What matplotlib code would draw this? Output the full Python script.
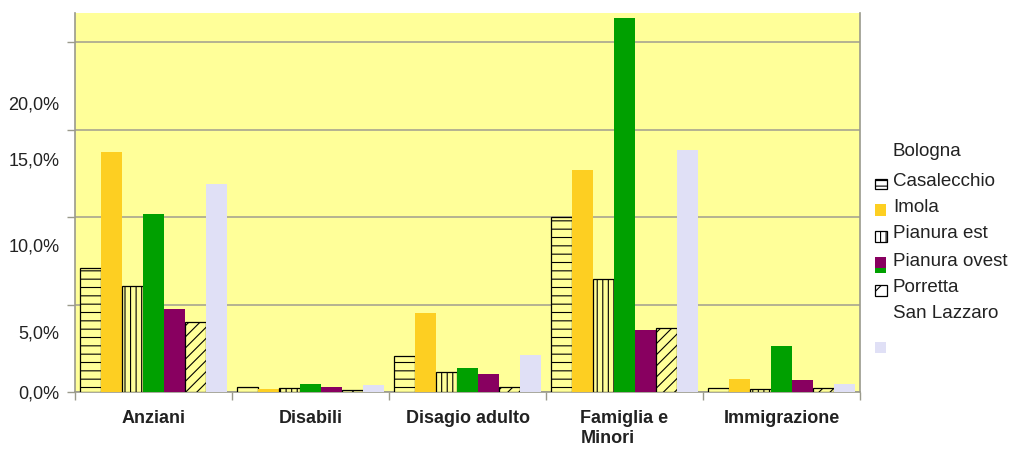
import numpy as np
import matplotlib.pyplot as plt
from matplotlib.patches import Rectangle

# data (percent)
categories = ["Anziani", "Disabili", "Disagio adulto", "Famiglia e\nMinori", "Immigrazione"]
series = ["Bologna", "Casalecchio", "Imola", "Pianura est", "Pianura ovest", "Porretta", "San Lazzaro"]

bologna = [7.10, 0.30, 2.06, 9.98, 0.21]
casalecchio = [13.73, 0.15, 4.53, 12.69, 0.74]
imola = [6.07, 0.25, 1.16, 6.44, 0.15]
pianura_est = [10.15, 0.46, 1.37, 21.39, 2.61]
pianura_ovest = [4.72, 0.27, 1.03, 3.54, 0.70]
porretta = [4.02, 0.11, 0.27, 3.64, 0.21]
san_lazzaro = [11.89, 0.40, 2.11, 13.83, 0.47]

values = [bologna, casalecchio, imola, pianura_est, pianura_ovest, porretta, san_lazzaro]

grid_ticks = [0, 5, 10, 15, 20]
tick_labels = ["0,0%", "5,0%", "10,0%", "15,0%", "20,0%"]
# the labels in the original sit off their gridlines
label_pos = [0, 3.45, 8.4, 13.3, 16.5]

BG = "#ffff99"
GOLD = "#fdcf22"
GREEN = "#00a000"
PURPLE = "#880060"
LAVENDER = "#e0e0f6"
GREY = "#9a9a8c"

styles = [
    dict(color=BG, edgecolor="black", hatch="--", linewidth=0.9),
    dict(color=GOLD, linewidth=0),
    dict(color=BG, edgecolor="black", hatch="|||", linewidth=0.9),
    dict(color=GREEN, linewidth=0),
    dict(color=PURPLE, linewidth=0),
    dict(color=BG, edgecolor="black", hatch="///", linewidth=0.9),
    dict(color=LAVENDER, linewidth=0),
]

plt.rcParams["font.family"] = ["Liberation Sans", "DejaVu Sans"]
plt.rcParams["hatch.linewidth"] = 0.8

W, H = 1015, 449
fig = plt.figure(figsize=(W / 100, H / 100), dpi=100)
ax = fig.add_axes([75 / W, 1 - 392 / H, 785 / W, 379 / H])
ax.set_facecolor(BG)

x = np.arange(len(categories))
width = 0.134
for i, (vals, st) in enumerate(zip(values, styles)):
    ax.bar(x + (i - 3) * width, vals, width, zorder=3, **st)

ax.set_xlim(-0.5, len(categories) - 0.5)
ax.set_ylim(0, 21.66)

# gridlines + outward ticks on the real 5% steps
ax.yaxis.remove_overlapping_locs = False
ax.set_yticks(grid_ticks)
ax.set_yticklabels([])
ax.tick_params(axis="y", which="major", length=6, color=GREY, width=1)
ax.set_yticks(label_pos, minor=True)
ax.set_yticklabels(tick_labels, minor=True)
ax.tick_params(axis="y", which="minor", length=0, pad=11, labelsize=13, labelcolor="#222222")
ax.yaxis.grid(True, which="major", color="#a8a690", linewidth=1.2, zorder=1)

ax.set_xticks(np.arange(-0.5, len(categories)))
ax.set_xticklabels([])
ax.tick_params(axis="x", which="major", length=6, color=GREY, width=1)
ax.set_xticks(x, minor=True)
ax.set_xticklabels(categories, minor=True, fontweight="bold")
ax.tick_params(axis="x", which="minor", length=0, pad=13, labelsize=13, labelcolor="#222222")
for lab in ax.get_xticklabels(minor=True):
    lab.set_multialignment("left")
    lab.set_verticalalignment("top")

for s in ["left", "bottom", "right"]:
    ax.spines[s].set_color(GREY)
    ax.spines[s].set_linewidth(1.2)
ax.spines["top"].set_visible(False)
ax.set_axisbelow(True)

# legend, drawn the way the original shows it (markers slipped one row)
text_y = [152, 181, 208, 234, 261, 288, 314]
for name, ty in zip(series, text_y):
    fig.text(893 / W, 1 - ty / H, name, fontsize=13.5, color="#222222", va="center")


def marker(x0, y0, w, h, **kw):
    fig.add_artist(Rectangle((x0 / W, 1 - (y0 + h) / H), w / W, h / H,
                             transform=fig.transFigure, **kw))


marker(875, 179, 12, 10, facecolor="white", edgecolor="black", hatch="---", linewidth=0.9)
marker(875, 204, 11, 12, facecolor=GOLD, linewidth=0)
marker(875, 231, 12, 11, facecolor="white", edgecolor="black", hatch="|||", linewidth=0.9)
marker(875, 257, 11, 11, facecolor=PURPLE, linewidth=0)
marker(875, 268, 11, 5, facecolor=GREEN, linewidth=0)
marker(875, 285, 12, 11, facecolor="white", edgecolor="black", hatch="//", linewidth=0.9)
marker(875, 342, 11, 11, facecolor=LAVENDER, linewidth=0)

fig.savefig("out.png", dpi=100)
